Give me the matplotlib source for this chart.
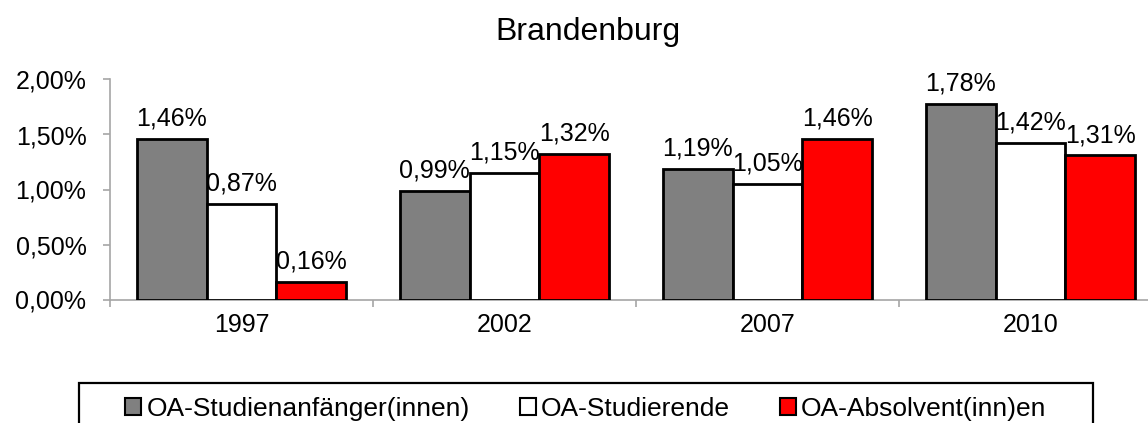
import matplotlib
matplotlib.use("Agg")
import matplotlib.pyplot as plt
from matplotlib.patches import Patch, Rectangle
import numpy as np

plt.rcParams['font.family'] = ['Liberation Sans', 'DejaVu Sans']

years = ['1997', '2002', '2007', '2010']
series_names = ['OA-Studienanfänger(innen)', 'OA-Studierende', 'OA-Absolvent(inn)en']
anfaenger = [1.46, 0.99, 1.19, 1.78]
studierende = [0.87, 1.15, 1.05, 1.42]
absolventen = [0.16, 1.32, 1.46, 1.31]
colors = ['#808080', '#ffffff', '#ff0000']

fig = plt.figure(figsize=(11.48, 4.23), dpi=100)
# axes runs a bit past the right edge, like the cropped original
ax = fig.add_axes([110/1148, 1 - 299.5/423, 1052/1148, 220/423])

x = np.arange(len(years))
w = 0.266
for k, (vals, col) in enumerate(zip([anfaenger, studierende, absolventen], colors)):
    pos = x + (k - 1) * w
    ax.bar(pos, vals, width=w, color=col, edgecolor='black', linewidth=2.0, zorder=3)
    for xp, v in zip(pos, vals):
        ax.annotate(('%.2f%%' % v).replace('.', ','), (xp, v), xytext=(0, 6),
                    textcoords='offset points', ha='center', va='bottom', fontsize=18)

ax.set_xlim(-0.5, 3.5)
ax.set_ylim(0, 2.0)
ax.set_yticks([0, 0.5, 1.0, 1.5, 2.0])
ax.set_yticklabels([('%.2f%%' % t).replace('.', ',') for t in [0, 0.5, 1.0, 1.5, 2.0]], fontsize=18)
ax.set_xticks(x)
ax.set_xticklabels(years, fontsize=18)
ax.set_xticks(np.arange(-0.5, 4.0, 1.0), minor=True)
ax.tick_params(axis='x', which='major', length=0, pad=10)
ax.tick_params(axis='x', which='minor', length=5, width=1.2, color='#a6a6a6')
ax.tick_params(axis='y', length=5, width=1.2, color='#a6a6a6', pad=12)

for s in ['top', 'right']:
    ax.spines[s].set_visible(False)
for s in ['left', 'bottom']:
    ax.spines[s].set_color('#a6a6a6')
    ax.spines[s].set_linewidth(1.2)

fig.text(588/1148, 1 - 32/423, 'Brandenburg', ha='center', va='center', fontsize=23)

handles = [Patch(facecolor=c, edgecolor='black', linewidth=1.5) for c in colors]
leg = fig.legend(handles, series_names, loc='upper center', ncol=3,
                 bbox_to_anchor=(586/1148, 1 - 385/423), fontsize=19,
                 frameon=False, handlelength=0.6, handleheight=0.6,
                 handletextpad=0.2, columnspacing=1.9, borderpad=0.45, borderaxespad=0)

# legend box, wider than its entries and cut off at the bottom edge
fig.patches.append(Rectangle((79/1148, -0.05), (1093 - 79)/1148, 1 - 383/423 + 0.05,
                             transform=fig.transFigure, fill=False,
                             edgecolor='black', linewidth=1.6))

fig.savefig('out.png', dpi=100)
